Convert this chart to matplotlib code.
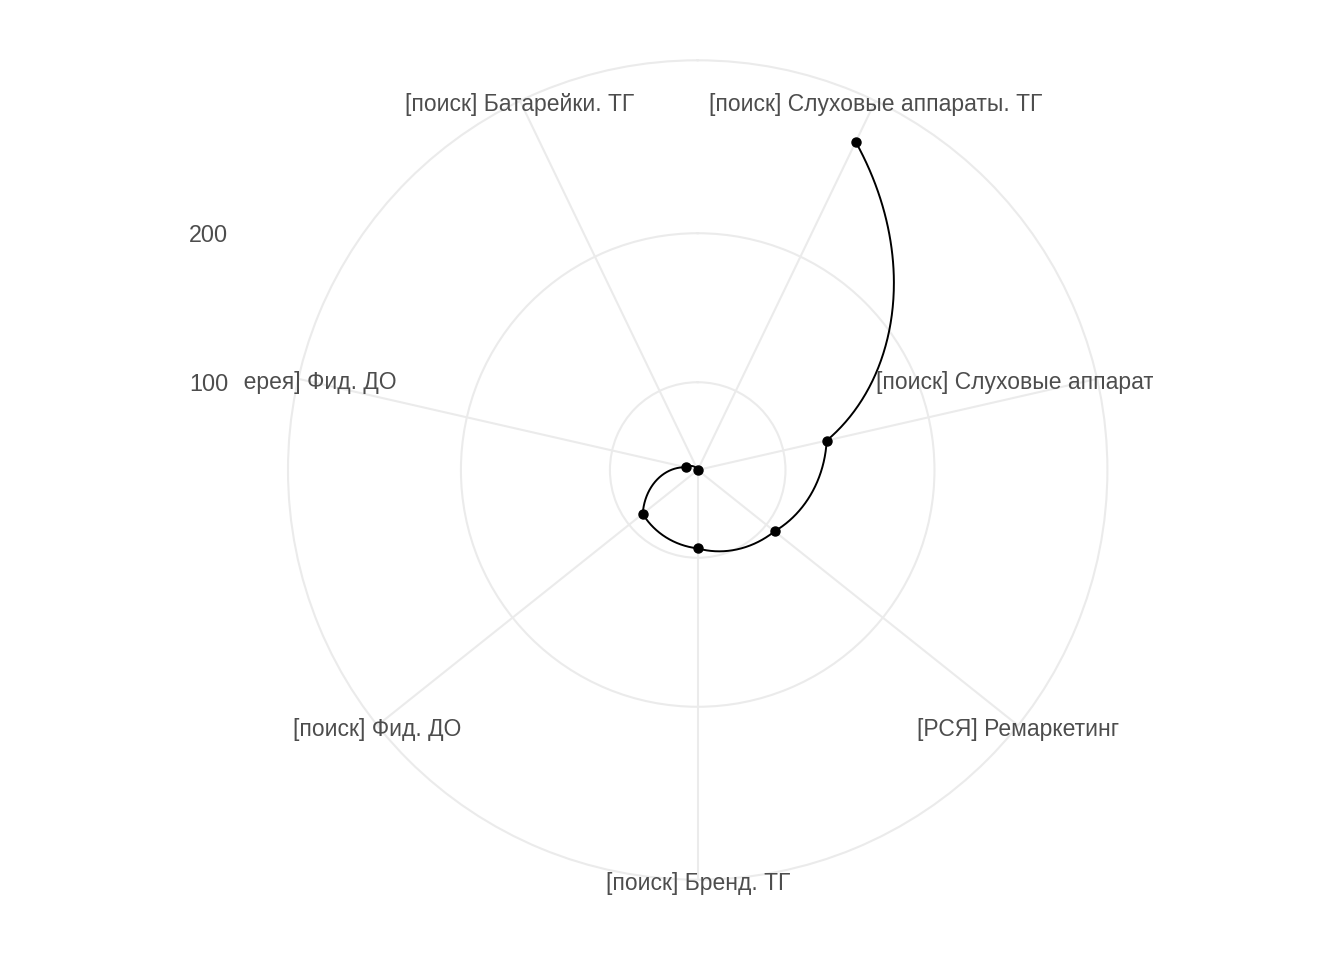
import numpy as np
import matplotlib
matplotlib.use("Agg")
import matplotlib.pyplot as plt
from matplotlib.transforms import Bbox, TransformedBbox, ScaledTranslation

# ---- data ----
categories = [
    "[поиск] Слуховые аппараты. ТГ",
    "[поиск] Слуховые аппараты. Ремаркетинг",
    "[РСЯ] Ремаркетинг",
    "[поиск] Бренд. ТГ",
    "[поиск] Фид. ДО",
    "[Галерея] Фид. ДО",
    "[поиск] Батарейки. ТГ",
]
values = [285.5, 129.9, 107.1, 93.7, 88.3, 49.3, 41.1]
r_breaks = [100, 200]
r_labels = ["100", "200"]

plt.rcParams['font.family'] = ['Liberation Sans', 'DejaVu Sans']
TEXT_COL = "#4D4D4D"
GRID_COL = "#EBEBEB"

W, H = 1344, 960
fig = plt.figure(figsize=(W / 100, H / 100), dpi=100)
fig.patch.set_facecolor("white")

cx, cy, rad = 697.7, 960 - 470.0, 409.7
ax = fig.add_axes([(cx - rad) / W, (cy - rad) / H, 2 * rad / W, 2 * rad / H],
                  projection="polar")
ax.set_theta_zero_location("N")
ax.set_theta_direction(-1)

n = len(categories)
theta = (np.arange(n) + 0.5) / n * 2 * np.pi
rmin, rmax = min(values), max(values)
rlim = rmin + (rmax - rmin) * 0.45 / 0.4
ax.set_ylim(rmin, rlim)

ax.set_xticks(theta)
ax.set_xticklabels([])
ax.set_yticks(r_breaks)
ax.set_yticklabels([])
ax.grid(True, color=GRID_COL, linewidth=1.5)
ax.tick_params(length=0)
ax.spines["polar"].set_color(GRID_COL)
ax.spines["polar"].set_linewidth(1.5)
ax.set_facecolor("white")

line, = ax.plot(theta, values, color="black", linewidth=1.4, zorder=3)
line.get_path()._interpolation_steps = 200
ax.plot(theta, values, "o", color="black", markersize=6.5, zorder=4)

# clip region: the square ggplot panel
pw = rad / 0.45
clip = TransformedBbox(Bbox.from_extents((cx - pw / 2) / W, (cy - pw / 2) / H,
                                         (cx + pw / 2) / W, (cy + pw / 2) / H),
                       fig.transFigure)
shift = ScaledTranslation(0, -4 / 100, fig.dpi_scale_trans)
for t, lab in zip(theta, categories):
    txt = ax.text(t, rlim, lab, ha="center", va="center", fontsize=16.5,
                  color=TEXT_COL, zorder=5, transform=ax.transData + shift)
    txt.set_clip_box(clip)
    txt.set_clip_on(True)

# radial labels on the left
left_px = cx - pw / 2
shift2 = ScaledTranslation(0, -2 / 100, fig.dpi_scale_trans)
for v, lab in zip(r_breaks, r_labels):
    yfrac = 0.5 + (v - rmin) / (rlim - rmin) * 0.5
    xfrac = (left_px - 14 - (cx - rad)) / (2 * rad)
    ax.text(xfrac, yfrac, lab, transform=ax.transAxes + shift2, ha="right",
            va="center", fontsize=16.8, color=TEXT_COL, clip_on=False)

fig.savefig("out.png", dpi=100, facecolor="white")
